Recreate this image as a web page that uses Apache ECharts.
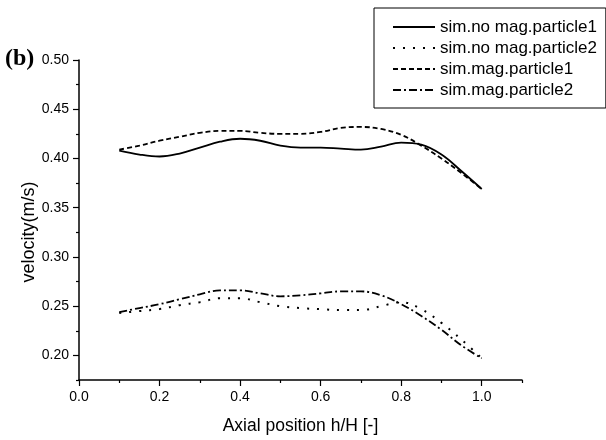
<!DOCTYPE html>
<html>
<head>
<meta charset="utf-8">
<script src="https://cdn.jsdelivr.net/npm/echarts@6/dist/echarts.min.js"></script>
<style>html,body{margin:0;padding:0;background:#fff;}#c{width:606px;height:440px;}</style>
</head>
<body>
<div id="c"></div>
<script>
const xPositions = [0.10,0.15,0.20,0.25,0.30,0.35,0.40,0.45,0.50,0.55,0.60,0.65,0.70,0.75,0.80,0.85,0.90,0.95,1.00];
const simNoMagP1 = [0.408,0.404,0.402,0.405,0.411,0.417,0.420,0.418,0.413,0.411,0.411,0.410,0.409,0.412,0.416,0.414,0.404,0.387,0.369];
const simNoMagP2 = [0.243,0.245,0.247,0.251,0.254,0.258,0.258,0.254,0.250,0.248,0.247,0.246,0.246,0.250,0.254,0.247,0.233,0.216,0.197];
const simMagP1   = [0.409,0.413,0.418,0.422,0.426,0.428,0.428,0.426,0.425,0.425,0.427,0.431,0.432,0.430,0.424,0.413,0.400,0.385,0.369];
const simMagP2   = [0.244,0.248,0.252,0.257,0.262,0.266,0.266,0.263,0.260,0.261,0.263,0.265,0.265,0.261,0.252,0.240,0.226,0.210,0.197];
const seriesNames = ['sim.no mag.particle1','sim.no mag.particle2','sim.mag.particle1','sim.mag.particle2'];
const xMajorTicks = [0,0.2,0.4,0.6,0.8,1.0];
const xMinorTicks = [0.1,0.3,0.5,0.7,0.9,1.1];
const yMajorTicks = [0.20,0.25,0.30,0.35,0.40,0.45,0.50];
const yMinorTicks = [0.175,0.225,0.275,0.325,0.375,0.425,0.475];

const pair = (ys) => xPositions.map((x, i) => [x, ys[i]]);
const FONT = '"Liberation Sans", Arial, sans-serif';
const chart = echarts.init(document.getElementById('c'), null, {renderer: 'canvas'});
const lineSeries = (name, ys, type, w) => ({
  name: name, type: 'line', data: pair(ys), smooth: 0.4, symbol: 'none', showSymbol: false,
  xAxisIndex: 0, yAxisIndex: 0,
  lineStyle: {color: '#000', width: w, type: type},
  itemStyle: {color: '#000'}
});
chart.setOption({
  animation: false,
  backgroundColor: '#fff',
  grid: {left: 79, right: 84, top: 60, bottom: 57, containLabel: false},
  xAxis: [{
    type: 'value', min: 0, max: 1.1, position: 'bottom',
    axisLine: {lineStyle: {color: '#000', width: 1.5}},
    axisTick: {customValues: xMajorTicks, length: 6, lineStyle: {color: '#000', width: 1.2}},
    axisLabel: {customValues: xMajorTicks, formatter: v => v.toFixed(1), margin: 10, color: '#000', fontSize: 14, fontFamily: FONT},
    splitLine: {show: false},
    name: 'Axial position h/H [-]', nameLocation: 'middle', nameGap: 37,
    nameTextStyle: {color: '#000', fontSize: 17.5, fontFamily: FONT}
  }, {
    type: 'value', min: 0, max: 1.1, position: 'bottom',
    axisLine: {show: false},
    axisTick: {customValues: xMinorTicks, length: 3, lineStyle: {color: '#000', width: 1.2}},
    axisLabel: {show: false}, splitLine: {show: false}
  }],
  yAxis: [{
    type: 'value', min: 0.175, max: 0.5, position: 'left',
    axisLine: {show: true, lineStyle: {color: '#000', width: 1.5}},
    axisTick: {show: true, customValues: yMajorTicks, length: 6, lineStyle: {color: '#000', width: 1.2}},
    axisLabel: {customValues: yMajorTicks, formatter: v => v.toFixed(2), margin: 10, color: '#000', fontSize: 14, fontFamily: FONT},
    splitLine: {show: false}
  }, {
    type: 'value', min: 0.175, max: 0.5, position: 'left',
    axisLine: {show: false},
    axisTick: {show: true, customValues: yMinorTicks, length: 3, lineStyle: {color: '#000', width: 1.2}},
    axisLabel: {show: false}, splitLine: {show: false}
  }],
  legend: {
    orient: 'vertical', left: 374, top: 8,
    padding: [9, 9, 8, 18], itemGap: 1, itemWidth: 42, itemHeight: 14,
    borderColor: '#000', borderWidth: 1,
    itemStyle: {opacity: 0},
    textStyle: {color: '#000', fontSize: 17, fontFamily: FONT, lineHeight: 20},
    data: seriesNames
  },
  graphic: [
    {type: 'text', left: 5, top: 47, style: {text: '(b)', fontSize: 24, fontWeight: 'bold', fontFamily: '"Liberation Serif", "Times New Roman", serif', fill: '#000'}},
    {type: 'text', x: 29, y: 232, rotation: Math.PI / 2, style: {text: 'velocity(m/s)', fontSize: 18, fontFamily: FONT, fill: '#000', align: 'center', verticalAlign: 'middle'}}
  ],
  series: [
    lineSeries(seriesNames[0], simNoMagP1, 'solid', 1.8),
    lineSeries(seriesNames[1], simNoMagP2, [2, 8], 2),
    lineSeries(seriesNames[2], simMagP1, [5, 3], 1.8),
    lineSeries(seriesNames[3], simMagP2, [8, 3, 2, 3], 1.8)
  ]
});
</script>
</body>
</html>
